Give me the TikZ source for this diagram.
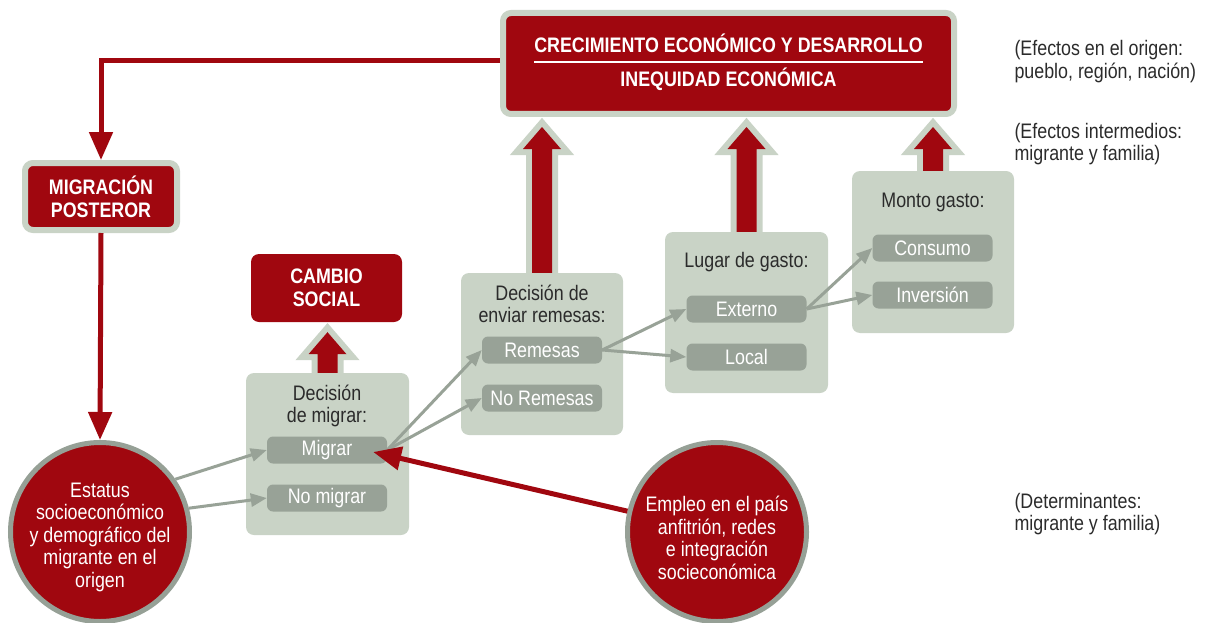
\documentclass[tikz,border=0pt]{standalone}
\usepackage{fontspec}
\setmainfont{Liberation Sans}[FakeStretch=0.85]
\usetikzlibrary{arrows.meta,calc,positioning}
\definecolor{cdred}{HTML}{A0070F}
\definecolor{cdlight}{HTML}{C9D3C6}
\definecolor{cdpill}{HTML}{98A297}
\definecolor{cdring}{HTML}{96A096}
\definecolor{cdtext}{HTML}{2B2B2B}
\setlength{\arrayrulewidth}{2pt}
\newcommand{\fatarrow}[2]{%
	\path [fill=cdred, preaction={draw=cdlight, line width=12pt, line join=miter}]
	let \p1=(#1.north), \p2=(#2.south) in
	(\x1-10pt,\y1) -- (\x1-10pt,\y2-32pt) -- (\x1-19pt,\y2-32pt) -- (\x1,\y2-10pt)
	-- (\x1+19pt,\y2-32pt) -- (\x1+10pt,\y2-32pt) -- (\x1+10pt,\y1) -- cycle;}

\begin{document}
\begin{tikzpicture}[x=1pt,y=-1pt,
		every node/.style={font=\fontsize{21}{22.5}\selectfont},
		redbox/.style={rectangle, rounded corners=8pt, fill=cdred, text=white, align=center, font=\bfseries\fontsize{21}{23}\selectfont},
		framed/.style={redbox, draw=cdlight, line width=6pt},
		choicebox/.style={rectangle, rounded corners=8pt, fill=cdlight},
		pill/.style={rectangle, rounded corners=6pt, fill=cdpill, text=white, minimum width=120pt, minimum height=27pt, inner sep=0pt},
		title/.style={text=cdtext, align=center},
		note/.style={text=cdtext, align=left, anchor=west},
		bigcirc/.style={circle, fill=cdred, draw=cdring, line width=5pt, minimum size=179pt},
		circtext/.style={text=white, align=center},
		redline/.style={draw=cdred, line width=5pt, -{Triangle[length=28pt,width=23pt]}},
		greyarrow/.style={draw=cdpill, line width=3pt, -{Triangle[length=16pt,width=13pt]}}]
		\useasboundingbox (0,0) rectangle (1222,623);
		\node [choicebox, minimum width=163pt, minimum height=162pt] (dmig) at (327.5,454) {};
		\node [choicebox, minimum width=162pt, minimum height=162pt] (drem) at (542,354) {};
		\node [choicebox, minimum width=163pt, minimum height=161pt] (dlug) at (746.5,312.5) {};
		\node [choicebox, minimum width=162pt, minimum height=162pt] (dmon) at (933,252) {};
		\node [title] (dmigt) at (327,406) {Decisión\\de migrar:};
		\node [title] (dremt) at (542,304) {Decisión de\\enviar remesas:};
		\node [title] (dlugt) at (746.5,262) {Lugar de gasto:};
		\node [title] (dmont) at (933,202) {Monto gasto:};
		\node [pill] (migrar) at (327,450) {Migrar};
		\node [pill] (nomig) at (327,498) {No migrar};
		\node [pill] (remesas) at (542,350) {Remesas};
		\node [pill] (noremesas) at (542,398) {No Remesas};
		\node [pill] (externo) at (746.5,309) {Externo};
		\node [pill] (local) at (746.5,357) {Local};
		\node [pill] (consumo) at (932.5,248) {Consumo};
		\node [pill] (inversion) at (932.5,295) {Inversión};
		\node [framed, minimum width=451pt, minimum height=101pt, font=\bfseries\fontsize{21}{25}\selectfont] (top) at (728.5,63.5)
			{\begin{tabular}{@{}c@{}}CRECIMIENTO ECONÓMICO Y DESARROLLO\\[1pt]\hline\rule{0pt}{23.5pt}INEQUIDAD ECONÓMICA\end{tabular}};
		\node [framed, minimum width=152pt, minimum height=67pt] (migpos) at (101,196.5) {MIGRACIÓN\\POSTEROR};
		\node [redbox, minimum width=151pt, minimum height=68pt] (cambio) at (326.5,288) {CAMBIO\\SOCIAL};
		\node [bigcirc] (estatus) at (100,532) {};
		\node [circtext] (estatustxt) at (100,537) {Estatus\\socioeconómico\\y demográfico del\\migrante en el\\origen};
		\node [bigcirc] (empleo) at (717,532) {};
		\node [circtext] (empleotxt) at (717,538) {Empleo en el país\\anfitrión, redes\\e integración\\socieconómica};
		\node [note] (notetop) at (1011,61.5) {(Efectos en el origen:\\pueblo, región, nación)};
		\node [note] (notemid) at (1011,144) {(Efectos intermedios:\\migrante y familia)};
		\node [note] (notelow) at (1011,514) {(Determinantes:\\migrante y familia)};
		\fatarrow{dmig}{cambio}
		\fatarrow{drem}{top}
		\fatarrow{dlug}{top}
		\fatarrow{dmon}{top}
		\draw [greyarrow] (estatus.35) -- (migrar.west);
		\draw [greyarrow] (estatus.15) -- (nomig.west);
		\draw [greyarrow] (migrar.east) -- (remesas.west);
		\draw [greyarrow] (migrar.east) -- (noremesas.west);
		\draw [greyarrow] (remesas.east) -- (externo.west);
		\draw [greyarrow] (remesas.east) -- (local.west);
		\draw [greyarrow] (externo.east) -- (consumo.west);
		\draw [greyarrow] (externo.east) -- (inversion.west);
		\draw [redline] ([yshift=3pt]top.west) -| (migpos.north);
		\draw [redline] (migpos.south) -- (estatus.north);
		\draw [redline] (empleo) -- ($(migrar.east)+(-14,2)$);
\end{tikzpicture}
\end{document}
